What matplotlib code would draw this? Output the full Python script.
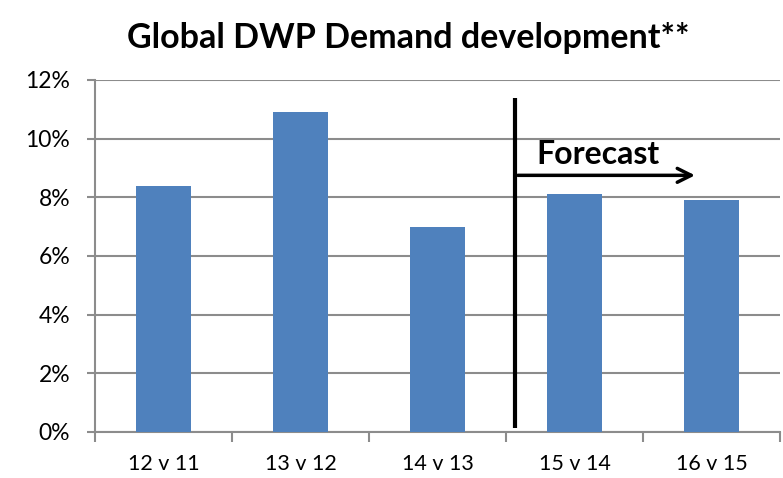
import matplotlib
matplotlib.use("Agg")
import matplotlib.pyplot as plt
from matplotlib.ticker import FuncFormatter, MultipleLocator

categories = ["12 v 11", "13 v 12", "14 v 13", "15 v 14", "16 v 15"]
values = [8.4, 10.9, 7.0, 8.1, 7.9]
title = "Global DWP Demand development**"
annotation = "Forecast"

plt.rcParams['font.family'] = ['Lato', 'DejaVu Sans']

fig = plt.figure(figsize=(7.83, 4.78), dpi=100)
ax = fig.add_axes([95/783, 46/478, 685/783, 352/478])

x = list(range(len(categories)))
ax.bar(x, values, width=0.4, color="#4F81BD", zorder=3)

ax.set_xlim(-0.5, len(categories) - 0.5)
ax.set_ylim(0, 12)
ax.yaxis.set_major_locator(MultipleLocator(2))
ax.yaxis.set_major_formatter(FuncFormatter(lambda v, p: f"{v:.0f}%"))
ax.grid(axis="y", color="#8C8C8C", linewidth=1.5, zorder=0)

ax.set_xticks(x)
ax.set_xticklabels(categories, fontsize=15.5)
ax.tick_params(axis="x", which="major", length=0, pad=16)
ax.set_xticks([i - 0.5 for i in range(len(categories) + 1)], minor=True)
ax.tick_params(axis="x", which="minor", length=7, width=1.5, color="#8C8C8C", direction="out")
ax.tick_params(axis="y", labelsize=16.5, length=6, width=1.5, color="#8C8C8C", direction="out", pad=12)

for s in ["top", "right"]:
    ax.spines[s].set_visible(False)
for s in ["left", "bottom"]:
    ax.spines[s].set_color("#8C8C8C")
    ax.spines[s].set_linewidth(1.5)

# separator line and forecast arrow
ax.plot([2.566, 2.566], [0.15, 11.4], color="black", linewidth=3, zorder=4, solid_capstyle="butt")
ax.annotate("", xy=(3.9, 8.75), xytext=(2.566, 8.75),
            arrowprops=dict(arrowstyle="->", color="black", lw=2.5, mutation_scale=25), zorder=5)
ax.text(2.72, 8.95, annotation, fontsize=23, fontweight="bold", ha="left", va="bottom", zorder=5)

fig.text(408/783, 1 - 38/478, title, fontsize=24.5, fontweight="bold", ha="center", va="center")

fig.savefig("out.png", dpi=100)
